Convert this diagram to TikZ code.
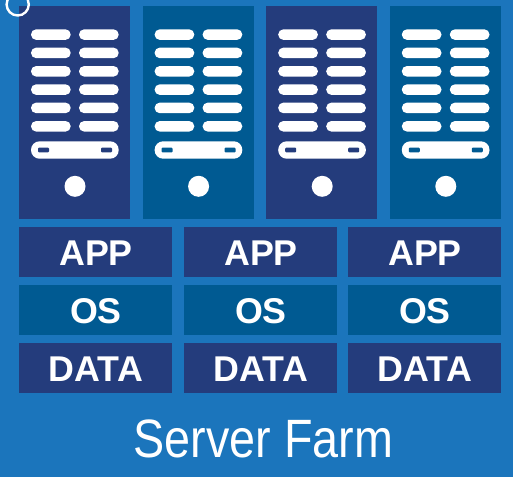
\documentclass[tikz,border=0pt]{standalone}
\usepackage{fontspec}
\setmainfont{Liberation Sans}
\definecolor{bgblue}{HTML}{1B75BC}
\definecolor{navy}{HTML}{243C7C}
\definecolor{teal2}{HTML}{005A92}
\tikzset{
  pill/.style={fill=white,rounded corners=5.2pt},
  bigpill/.style={fill=white,rounded corners=8.5pt},
  slot/.style={rounded corners=1pt},
  blocklabel/.style={text=white,anchor=base,inner sep=0pt,font=\fontsize{35.8}{35.8}\selectfont\bfseries},
  titlelabel/.style={text=white,anchor=base,inner sep=0pt,font=\fontsize{54}{54}\selectfont},
}
\begin{document}
\begin{tikzpicture}[x=1pt,y=-1pt]
\useasboundingbox (0,0) rectangle (513,477);
\fill[bgblue] (0,0) rectangle (513,477);
% servers
\foreach \sx/\col in {19/navy,142.6/teal2,266.2/navy,389.8/teal2}{
  \begin{scope}[shift={(\sx,0)}]
    \fill[\col] (0,6) rectangle (111,219);
    \foreach \py in {29.3,47.6,66,84.3,102.6,121}{
      \fill[pill] (12,\py) rectangle +(39.7,10.6);
      \fill[pill] (60,\py) rectangle +(39.7,10.6);
    }
    \fill[bigpill] (12,141.3) rectangle (99.7,158.7);
    \fill[\col,slot] (19,147.6) rectangle (30,152.4);
    \fill[\col,slot] (82,147.6) rectangle (93,152.4);
    \fill[white] (56,186.3) circle (10.5);
  \end{scope}
}
\draw[white,line width=2.4pt] (17.7,4.4) circle (11.1);
% stacks
\foreach \bx/\cx/\n in {19/96/a,184/261/b,348/425/c}{
  \fill[navy] (\bx,227) rectangle +(153,50);
  \fill[teal2] (\bx,285) rectangle +(153,50);
  \fill[navy] (\bx,343) rectangle +(153,50);
  \node[blocklabel] (app\n) at (\cx,265) {APP};
  \node[blocklabel] (os\n) at (\cx,323) {OS};
  \node[blocklabel] (data\n) at (\cx,381) {DATA};
}
\node[titlelabel] (title) at (263.5,457) {\scalebox{0.865}[1]{Server Farm}};
\end{tikzpicture}
\end{document}
